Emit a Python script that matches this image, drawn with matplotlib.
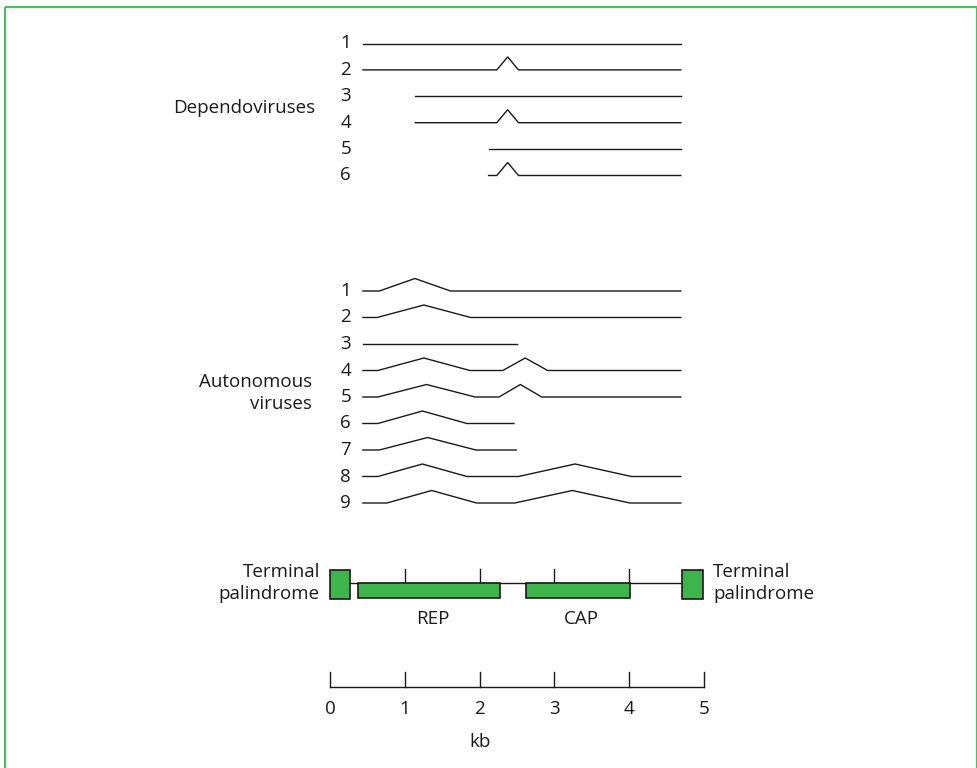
import matplotlib
matplotlib.use("Agg")
import matplotlib.pyplot as plt
from matplotlib.patches import Rectangle

plt.rcParams['font.family'] = ['Open Sans', 'DejaVu Sans']

# transcript maps, positions in kb
dep_labels = ['1', '2', '3', '4', '5', '6']
dep_exons = [
    [(0.44, 4.69)],
    [(0.44, 2.23), (2.52, 4.69)],
    [(1.14, 4.69)],
    [(1.14, 2.23), (2.52, 4.69)],
    [(2.12, 4.69)],
    [(2.12, 2.23), (2.52, 4.69)],
]

aut_labels = ['1', '2', '3', '4', '5', '6', '7', '8', '9']
aut_exons = [
    [(0.44, 0.66), (1.61, 4.69)],
    [(0.44, 0.63), (1.88, 4.69)],
    [(0.44, 2.50)],
    [(0.44, 0.64), (1.87, 2.31), (2.91, 4.69)],
    [(0.44, 0.64), (1.94, 2.26), (2.83, 4.69)],
    [(0.44, 0.64), (1.83, 2.46)],
    [(0.44, 0.66), (1.95, 2.49)],
    [(0.44, 0.64), (1.83, 2.52), (4.03, 4.69)],
    [(0.44, 0.76), (1.96, 2.47), (4.01, 4.69)],
]

# genome map
genome_span = (0.27, 4.71)
itr_boxes = [(0.0, 0.27), (4.71, 4.98)]
orf_names = ['REP', 'CAP']
orf_boxes = [(0.37, 2.27), (2.62, 4.01)]
genome_ticks = [1, 2, 3, 4]
scale_ticks = [0, 1, 2, 3, 4, 5]

GREEN = '#3db54b'
INK = '#1a1a1a'
PX0, PXKB = 330.0, 74.8   # pixel of 0 kb, pixels per kb


def px(x):
    return (x - PX0) / PXKB


def draw_transcript(ax, exons, y, rise=12.5):
    xs, ys = [], []
    for k, (s, e) in enumerate(exons):
        if k > 0:
            prev_end = exons[k - 1][1]
            xs.append((prev_end + s) / 2)
            ys.append(y - rise)
        xs += [s, e]
        ys += [y, y]
    ax.plot(xs, ys, color=INK, lw=1.0, solid_joinstyle='miter')


fig = plt.figure(figsize=(9.78, 7.68), dpi=100)
ax = fig.add_axes([0, 0, 1, 1])
ax.set_xlim(px(0), px(978))
ax.set_ylim(768, 0)
ax.axis('off')

fs = 13.5

# frame
ax.add_patch(Rectangle((px(5), 7), px(977) - px(5), 780, fill=False,
                       edgecolor=GREEN, lw=1.6, alpha=0.9))

# dependoviruses
for i, (lab, ex) in enumerate(zip(dep_labels, dep_exons)):
    y = 43.5 + 26.4 * i
    draw_transcript(ax, ex, y, rise=13)
    ax.text(0.21, y, lab, ha='center', va='center', fontsize=fs, color=INK)
ax.text(px(315), 108, 'Dependoviruses', ha='right', va='center', fontsize=fs, color=INK)

# autonomous viruses
for i, (lab, ex) in enumerate(zip(aut_labels, aut_exons)):
    y = 291 + 26.5 * i
    draw_transcript(ax, ex, y, rise=12.5)
    ax.text(0.21, y, lab, ha='center', va='center', fontsize=fs, color=INK)
ax.text(px(312), 393, 'Autonomous\nviruses', ha='right', va='center',
        fontsize=fs, color=INK, multialignment='right', linespacing=1.25)

# genome organisation
gy = 583
ax.plot(genome_span, [gy, gy], color=INK, lw=1.0, zorder=1)
for t in genome_ticks:
    ax.plot([t, t], [gy - 14, gy], color=INK, lw=1.0, zorder=1)
for s, e in itr_boxes:
    ax.add_patch(Rectangle((s, 570), e - s, 29, facecolor=GREEN,
                           edgecolor=INK, lw=1.2, zorder=2))
for name, (s, e) in zip(orf_names, orf_boxes):
    ax.add_patch(Rectangle((s, gy), e - s, 15, facecolor=GREEN,
                           edgecolor=INK, lw=1.2, zorder=2))
    ax.text((s + e) / 2 + 0.05, 619, name, ha='center', va='center',
            fontsize=fs, color=INK)
ax.text(px(320), 583, 'Terminal\npalindrome', ha='right', va='center',
        fontsize=fs, color=INK, linespacing=1.25)
ax.text(px(713), 583, 'Terminal\npalindrome', ha='left', va='center',
        fontsize=fs, color=INK, linespacing=1.25)

# kb scale
sy = 687
ax.plot([scale_ticks[0], scale_ticks[-1]], [sy, sy], color=INK, lw=1.0)
for t in scale_ticks:
    ax.plot([t, t], [sy - 15, sy], color=INK, lw=1.0)
    ax.text(t, 709, str(t), ha='center', va='center', fontsize=fs, color=INK)
ax.text(2, 742, 'kb', ha='center', va='center', fontsize=fs, color=INK)

fig.savefig('out.png', dpi=100)
